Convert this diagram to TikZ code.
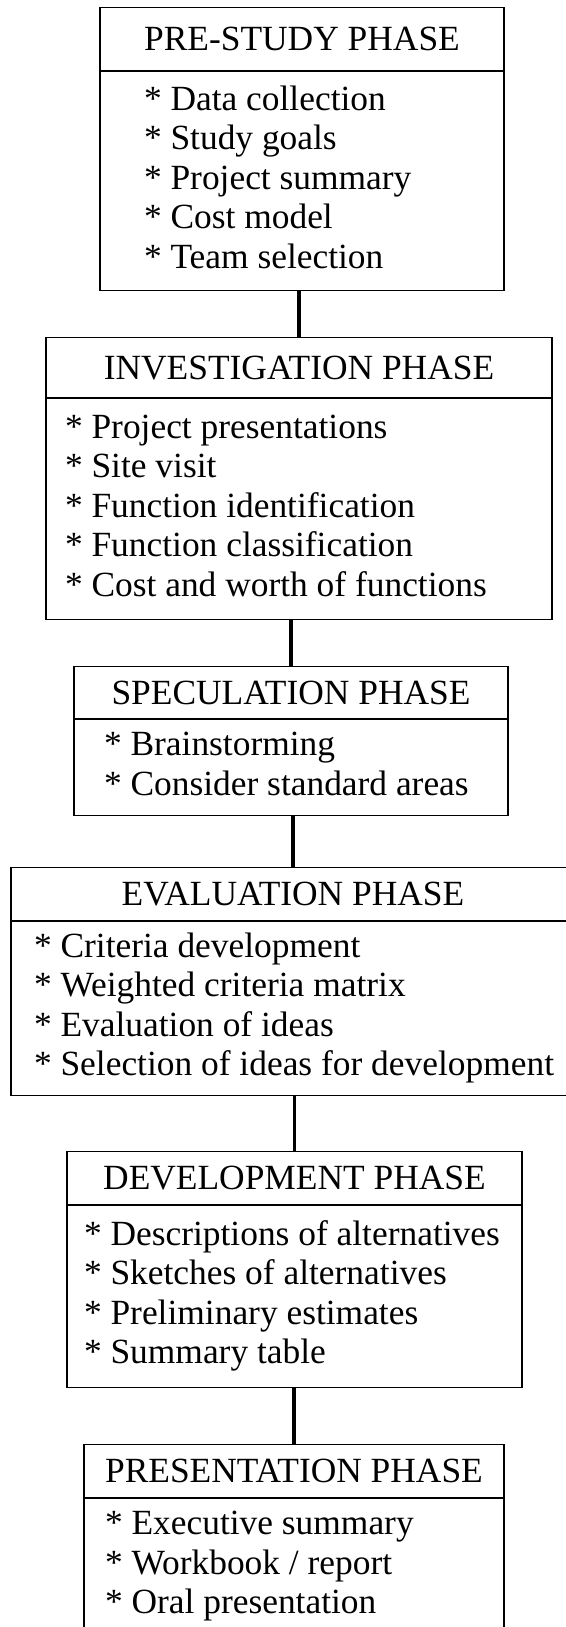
\documentclass[tikz,border=0pt]{standalone}
\usepackage{fontspec}
\setmainfont{Liberation Serif}
\newcommand\phasefont{\fontsize{17.7}{19.75}\selectfont}
\begin{document}
\begin{tikzpicture}[
    head/.style={draw, line width=0.6pt, anchor=north, inner sep=0pt, font=\phasefont},
    body/.style 2 args={draw, line width=0.6pt, anchor=north west, align=flush left, inner ysep=0pt, inner xsep=#1, text width=#2, font=\phasefont, execute at begin node=\strut, execute at end node=\strut},
    link/.style={line width=1.7pt}
    ]
    \useasboundingbox (0,0) rectangle (283pt,-813.5pt);
    \node[head, minimum width=202pt, minimum height=31.5pt] (h1) at (151pt,-3.5pt) {PRE-STUDY PHASE};
    \node[body={22pt}{158pt}, minimum height=109.5pt] (b1) at (h1.south west) {{*} Data collection\\ {*} Study goals\\ {*} Project summary\\ {*} Cost model\\ {*} Team selection};
    \node[head, minimum width=253pt, minimum height=30pt] (h2) at (149.5pt,-168.5pt) {INVESTIGATION PHASE};
    \node[body={9.5pt}{234pt}, minimum height=110.5pt] (b2) at (h2.south west) {{*} Project presentations\\ {*} Site visit\\ {*} Function identification\\ {*} Function classification\\ {*} Cost and worth of functions};
    \node[head, minimum width=217pt, minimum height=26pt] (h3) at (145.5pt,-333pt) {SPECULATION PHASE};
    \node[body={15pt}{187pt}, minimum height=48pt] (b3) at (h3.south west) {{*} Brainstorming\\ {*} Consider standard areas};
    \node[head, minimum width=282pt, minimum height=26.5pt] (h4) at (146.5pt,-433.5pt) {EVALUATION PHASE};
    \node[body={11.5pt}{270pt}, minimum height=87pt] (b4) at (h4.south west) {{*} Criteria development\\ {*} Weighted criteria matrix\\ {*} Evaluation of ideas\\ {*} Selection of ideas for development};
    \node[head, minimum width=227.5pt, minimum height=26.5pt] (h5) at (147.25pt,-575.5pt) {DEVELOPMENT PHASE};
    \node[body={8.5pt}{210.5pt}, minimum height=91pt] (b5) at (h5.south west) {{*} Descriptions of alternatives\\ {*} Sketches of alternatives\\ {*} Preliminary estimates\\ {*} Summary table};
    \node[head, minimum width=210pt, minimum height=26.5pt] (h6) at (147pt,-722pt) {PRESENTATION PHASE};
    \node[body={10.5pt}{189pt}, minimum height=67.5pt] (b6) at (h6.south west) {{*} Executive summary\\ {*} Workbook / report\\ {*} Oral presentation};
    \draw[link] (b1.south -| h2.north) -- (h2.north);
    \draw[link] (b2.south -| h3.north) -- (h3.north);
    \draw[link] (b3.south -| h4.north) -- (h4.north);
    \draw[link] (b4.south -| h5.north) -- (h5.north);
    \draw[link] (b5.south -| h6.north) -- (h6.north);
\end{tikzpicture}
\end{document}
